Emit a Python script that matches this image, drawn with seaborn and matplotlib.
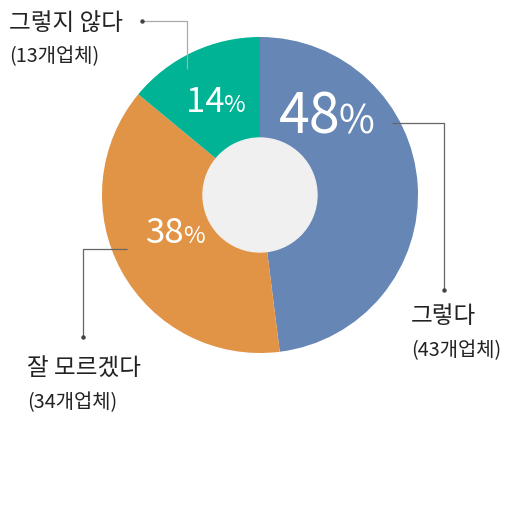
import matplotlib
matplotlib.use("Agg")
import matplotlib.pyplot as plt
import seaborn as sns

# ---- data ----
categories = ["그렇다", "잘 모르겠다", "그렇지 않다"]
percents = [48, 38, 14]
company_counts = [43, 34, 13]
palette_hex = ["#6686b5", "#e19446", "#00b394"]

sns.set_theme(style="white")
plt.rcParams["font.family"] = ["Noto Sans CJK KR", "DejaVu Sans"]

W, H = 518, 511
fig = plt.figure(figsize=(W / 100, H / 100), dpi=100)
ax = fig.add_axes([0, 0, 1, 1])
colors = sns.color_palette(palette_hex)

cx, cy, R = 260, H - 195, 158
ax.pie(percents, colors=colors, startangle=90, counterclock=False,
       center=(cx, cy), radius=R, wedgeprops=dict(linewidth=0))
ax.add_patch(plt.Circle((cx, cy), 57, color="#f0f0f0", zorder=5))
ax.set_xlim(0, W)
ax.set_ylim(0, H)
ax.set_aspect("auto")
ax.axis("off")

# percentage labels: (x of split between number and %, baseline y in px, number size, % size)
pct_layout = [(341, 133, 40, 28), (185, 243, 25, 17), (225, 112, 25, 17)]
for p, (x, yb, s1, s2) in zip(percents, pct_layout):
    ax.text(x, H - yb, str(p), color="white", fontsize=s1, ha="right", va="baseline",
            fontweight="medium", zorder=6)
    ax.text(x - 2, H - yb, "%", color="white", fontsize=s2, ha="left", va="baseline",
            fontweight="medium", zorder=6)

# leader lines (px coordinates), colour, index of the dotted end
leaders = [
    ([392, 444, 444], [123, 123, 290], "#666666", -1),
    ([127, 83, 83], [249, 249, 337], "#666666", -1),
    ([142, 187, 187], [21, 21, 69], "#aaaaaa", 0),
]
for xs, ys, c, di in leaders:
    ax.plot(xs, [H - y for y in ys], color=c, lw=0.9, zorder=7, solid_capstyle="butt")
    ax.plot(xs[di], H - ys[di], "o", ms=2.2, color="#444444", zorder=8)

# category labels (left x, baseline of title, baseline of subtitle)
label_layout = [(411, 323, 356), (27, 375, 408), (9, 30, 62)]
for cat, n, (x, y1, y2) in zip(categories, company_counts, label_layout):
    ax.text(x, H - y1, cat, fontsize=17, color="#222222", ha="left", va="baseline",
            fontweight="medium")
    ax.text(x, H - y2, f"({n}개업체)", fontsize=14.3, color="#222222", ha="left",
            va="baseline", fontweight="medium")

fig.savefig("out.png", dpi=100, facecolor="white")
